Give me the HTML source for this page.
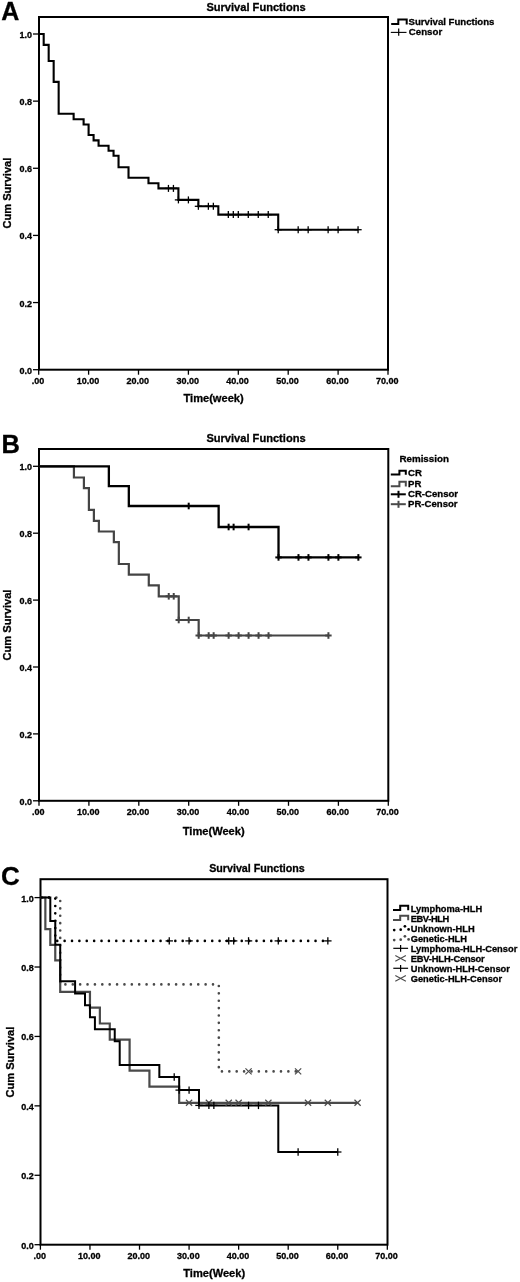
<!DOCTYPE html>
<html><head><meta charset="utf-8"><title>Survival Functions</title>
<style>
html,body{margin:0;padding:0;background:#fff;}
body{width:520px;height:1282px;overflow:hidden;}
svg{display:block;}
text{font-family:'Liberation Sans', Arial, sans-serif;font-weight:bold;stroke:#000;stroke-width:0.3px;}
</style></head><body>
<svg width="520" height="1282" viewBox="0 0 520 1282" font-family="'Liberation Sans', Arial, sans-serif" font-weight="bold">
<rect width="520" height="1282" fill="#fff"/>
<rect x="39" y="17" width="349" height="352.7" fill="none" stroke="#000" stroke-width="2"/>
<line x1="33" y1="369.7" x2="39" y2="369.7" stroke="#000" stroke-width="1.3"/>
<text x="32" y="373.7" font-size="9" text-anchor="end" fill="#000">0.0</text>
<line x1="33" y1="302.56" x2="39" y2="302.56" stroke="#000" stroke-width="1.3"/>
<text x="32" y="306.56" font-size="9" text-anchor="end" fill="#000">0.2</text>
<line x1="33" y1="235.42" x2="39" y2="235.42" stroke="#000" stroke-width="1.3"/>
<text x="32" y="239.42" font-size="9" text-anchor="end" fill="#000">0.4</text>
<line x1="33" y1="168.28" x2="39" y2="168.28" stroke="#000" stroke-width="1.3"/>
<text x="32" y="172.28" font-size="9" text-anchor="end" fill="#000">0.6</text>
<line x1="33" y1="101.14" x2="39" y2="101.14" stroke="#000" stroke-width="1.3"/>
<text x="32" y="105.14" font-size="9" text-anchor="end" fill="#000">0.8</text>
<line x1="33" y1="34" x2="39" y2="34" stroke="#000" stroke-width="1.3"/>
<text x="32" y="38" font-size="9" text-anchor="end" fill="#000">1.0</text>
<line x1="38.7" y1="369.7" x2="38.7" y2="374.7" stroke="#000" stroke-width="1.3"/>
<text x="38" y="384.1" font-size="9" text-anchor="middle" fill="#000">.00</text>
<line x1="88.6" y1="369.7" x2="88.6" y2="374.7" stroke="#000" stroke-width="1.3"/>
<text x="87.9" y="384.1" font-size="9" text-anchor="middle" fill="#000">10.00</text>
<line x1="138.5" y1="369.7" x2="138.5" y2="374.7" stroke="#000" stroke-width="1.3"/>
<text x="137.8" y="384.1" font-size="9" text-anchor="middle" fill="#000">20.00</text>
<line x1="188.4" y1="369.7" x2="188.4" y2="374.7" stroke="#000" stroke-width="1.3"/>
<text x="187.7" y="384.1" font-size="9" text-anchor="middle" fill="#000">30.00</text>
<line x1="238.3" y1="369.7" x2="238.3" y2="374.7" stroke="#000" stroke-width="1.3"/>
<text x="237.6" y="384.1" font-size="9" text-anchor="middle" fill="#000">40.00</text>
<line x1="288.2" y1="369.7" x2="288.2" y2="374.7" stroke="#000" stroke-width="1.3"/>
<text x="287.5" y="384.1" font-size="9" text-anchor="middle" fill="#000">50.00</text>
<line x1="338.1" y1="369.7" x2="338.1" y2="374.7" stroke="#000" stroke-width="1.3"/>
<text x="337.4" y="384.1" font-size="9" text-anchor="middle" fill="#000">60.00</text>
<line x1="388" y1="369.7" x2="388" y2="374.7" stroke="#000" stroke-width="1.3"/>
<text x="387.3" y="384.1" font-size="9" text-anchor="middle" fill="#000">70.00</text>
<text x="256" y="10.7" font-size="11.1" text-anchor="middle" fill="#000">Survival Functions</text>
<text x="213.6" y="402" font-size="11.1" text-anchor="middle" fill="#000">Time(week)</text>
<text x="0" y="0" font-size="11.1" text-anchor="middle" transform="translate(10.6,193.1) rotate(-90)">Cum Survival</text>
<text x="1.3" y="19.6" font-size="25" text-anchor="start" fill="#000">A</text>
<rect x="39" y="449" width="349.3" height="351.8" fill="none" stroke="#000" stroke-width="2"/>
<line x1="33" y1="800.8" x2="39" y2="800.8" stroke="#000" stroke-width="1.3"/>
<text x="32" y="804.8" font-size="9" text-anchor="end" fill="#000">0.0</text>
<line x1="33" y1="733.9" x2="39" y2="733.9" stroke="#000" stroke-width="1.3"/>
<text x="32" y="737.9" font-size="9" text-anchor="end" fill="#000">0.2</text>
<line x1="33" y1="667" x2="39" y2="667" stroke="#000" stroke-width="1.3"/>
<text x="32" y="671" font-size="9" text-anchor="end" fill="#000">0.4</text>
<line x1="33" y1="600.1" x2="39" y2="600.1" stroke="#000" stroke-width="1.3"/>
<text x="32" y="604.1" font-size="9" text-anchor="end" fill="#000">0.6</text>
<line x1="33" y1="533.2" x2="39" y2="533.2" stroke="#000" stroke-width="1.3"/>
<text x="32" y="537.2" font-size="9" text-anchor="end" fill="#000">0.8</text>
<line x1="33" y1="466.3" x2="39" y2="466.3" stroke="#000" stroke-width="1.3"/>
<text x="32" y="470.3" font-size="9" text-anchor="end" fill="#000">1.0</text>
<line x1="39" y1="800.8" x2="39" y2="805.8" stroke="#000" stroke-width="1.3"/>
<text x="38.3" y="815.2" font-size="9" text-anchor="middle" fill="#000">.00</text>
<line x1="88.9" y1="800.8" x2="88.9" y2="805.8" stroke="#000" stroke-width="1.3"/>
<text x="88.2" y="815.2" font-size="9" text-anchor="middle" fill="#000">10.00</text>
<line x1="138.8" y1="800.8" x2="138.8" y2="805.8" stroke="#000" stroke-width="1.3"/>
<text x="138.1" y="815.2" font-size="9" text-anchor="middle" fill="#000">20.00</text>
<line x1="188.7" y1="800.8" x2="188.7" y2="805.8" stroke="#000" stroke-width="1.3"/>
<text x="188" y="815.2" font-size="9" text-anchor="middle" fill="#000">30.00</text>
<line x1="238.6" y1="800.8" x2="238.6" y2="805.8" stroke="#000" stroke-width="1.3"/>
<text x="237.9" y="815.2" font-size="9" text-anchor="middle" fill="#000">40.00</text>
<line x1="288.5" y1="800.8" x2="288.5" y2="805.8" stroke="#000" stroke-width="1.3"/>
<text x="287.8" y="815.2" font-size="9" text-anchor="middle" fill="#000">50.00</text>
<line x1="338.4" y1="800.8" x2="338.4" y2="805.8" stroke="#000" stroke-width="1.3"/>
<text x="337.7" y="815.2" font-size="9" text-anchor="middle" fill="#000">60.00</text>
<line x1="388.3" y1="800.8" x2="388.3" y2="805.8" stroke="#000" stroke-width="1.3"/>
<text x="387.6" y="815.2" font-size="9" text-anchor="middle" fill="#000">70.00</text>
<text x="256" y="442.3" font-size="11.1" text-anchor="middle" fill="#000">Survival Functions</text>
<text x="213.7" y="834.5" font-size="11.1" text-anchor="middle" fill="#000">Time(Week)</text>
<text x="0" y="0" font-size="11.1" text-anchor="middle" transform="translate(10.6,625) rotate(-90)">Cum Survival</text>
<text x="1.5" y="452.7" font-size="25.5" text-anchor="start" fill="#000">B</text>
<rect x="40.5" y="879.2" width="347" height="365.5" fill="none" stroke="#000" stroke-width="2"/>
<line x1="34.5" y1="1244.7" x2="40.5" y2="1244.7" stroke="#000" stroke-width="1.3"/>
<text x="33.8" y="1248.7" font-size="9" text-anchor="end" fill="#000">0.0</text>
<line x1="34.5" y1="1175.28" x2="40.5" y2="1175.28" stroke="#000" stroke-width="1.3"/>
<text x="33.8" y="1179.28" font-size="9" text-anchor="end" fill="#000">0.2</text>
<line x1="34.5" y1="1105.86" x2="40.5" y2="1105.86" stroke="#000" stroke-width="1.3"/>
<text x="33.8" y="1109.86" font-size="9" text-anchor="end" fill="#000">0.4</text>
<line x1="34.5" y1="1036.44" x2="40.5" y2="1036.44" stroke="#000" stroke-width="1.3"/>
<text x="33.8" y="1040.44" font-size="9" text-anchor="end" fill="#000">0.6</text>
<line x1="34.5" y1="967.02" x2="40.5" y2="967.02" stroke="#000" stroke-width="1.3"/>
<text x="33.8" y="971.02" font-size="9" text-anchor="end" fill="#000">0.8</text>
<line x1="34.5" y1="897.6" x2="40.5" y2="897.6" stroke="#000" stroke-width="1.3"/>
<text x="33.8" y="901.6" font-size="9" text-anchor="end" fill="#000">1.0</text>
<line x1="40.4" y1="1244.7" x2="40.4" y2="1249.7" stroke="#000" stroke-width="1.3"/>
<text x="39.7" y="1259.2" font-size="9" text-anchor="middle" fill="#000">.00</text>
<line x1="89.96" y1="1244.7" x2="89.96" y2="1249.7" stroke="#000" stroke-width="1.3"/>
<text x="89.26" y="1259.2" font-size="9" text-anchor="middle" fill="#000">10.00</text>
<line x1="139.52" y1="1244.7" x2="139.52" y2="1249.7" stroke="#000" stroke-width="1.3"/>
<text x="138.82" y="1259.2" font-size="9" text-anchor="middle" fill="#000">20.00</text>
<line x1="189.08" y1="1244.7" x2="189.08" y2="1249.7" stroke="#000" stroke-width="1.3"/>
<text x="188.38" y="1259.2" font-size="9" text-anchor="middle" fill="#000">30.00</text>
<line x1="238.64" y1="1244.7" x2="238.64" y2="1249.7" stroke="#000" stroke-width="1.3"/>
<text x="237.94" y="1259.2" font-size="9" text-anchor="middle" fill="#000">40.00</text>
<line x1="288.2" y1="1244.7" x2="288.2" y2="1249.7" stroke="#000" stroke-width="1.3"/>
<text x="287.5" y="1259.2" font-size="9" text-anchor="middle" fill="#000">50.00</text>
<line x1="337.76" y1="1244.7" x2="337.76" y2="1249.7" stroke="#000" stroke-width="1.3"/>
<text x="337.06" y="1259.2" font-size="9" text-anchor="middle" fill="#000">60.00</text>
<line x1="387.32" y1="1244.7" x2="387.32" y2="1249.7" stroke="#000" stroke-width="1.3"/>
<text x="386.62" y="1259.2" font-size="9" text-anchor="middle" fill="#000">70.00</text>
<text x="257" y="872.3" font-size="10.7" text-anchor="middle" fill="#000">Survival Functions</text>
<text x="214.2" y="1277.2" font-size="11.1" text-anchor="middle" fill="#000">Time(Week)</text>
<text x="0" y="0" font-size="11.1" text-anchor="middle" transform="translate(13.8,1062.1) rotate(-90)">Cum Survival</text>
<text x="0.9" y="885.1" font-size="26" text-anchor="start" fill="#000">C</text>
<polyline points="38.7,34 43.69,34 43.69,44.85 48.68,44.85 48.68,61 53.67,61 53.67,81.9 58.66,81.9 58.66,113.8 73.63,113.8 73.63,119.3 83.61,119.3 83.61,124.5 88.6,124.5 88.6,135 93.59,135 93.59,140.4 98.58,140.4 98.58,145.8 108.56,145.8 108.56,150.8 113.55,150.8 113.55,155.8 118.54,155.8 118.54,167.3 128.52,167.3 128.52,177.7 148.48,177.7 148.48,183.2 158.46,183.2 158.46,188.4 178.42,188.4 178.42,199.9 198.38,199.9 198.38,206.3 218.34,206.3 218.34,214.6 278.22,214.6 278.22,229.7 358.06,229.7" fill="none" stroke="#000" stroke-width="2.1" stroke-linejoin="miter" stroke-linecap="butt"/>
<line x1="164.84" y1="188.4" x2="172.04" y2="188.4" stroke="#000" stroke-width="1.3"/>
<line x1="168.44" y1="184.9" x2="168.44" y2="191.9" stroke="#000" stroke-width="1.3"/>
<line x1="169.83" y1="188.4" x2="177.03" y2="188.4" stroke="#000" stroke-width="1.3"/>
<line x1="173.43" y1="184.9" x2="173.43" y2="191.9" stroke="#000" stroke-width="1.3"/>
<line x1="174.82" y1="199.9" x2="182.02" y2="199.9" stroke="#000" stroke-width="1.3"/>
<line x1="178.42" y1="196.4" x2="178.42" y2="203.4" stroke="#000" stroke-width="1.3"/>
<line x1="184.8" y1="199.9" x2="192" y2="199.9" stroke="#000" stroke-width="1.3"/>
<line x1="188.4" y1="196.4" x2="188.4" y2="203.4" stroke="#000" stroke-width="1.3"/>
<line x1="194.78" y1="206.3" x2="201.98" y2="206.3" stroke="#000" stroke-width="1.3"/>
<line x1="198.38" y1="202.8" x2="198.38" y2="209.8" stroke="#000" stroke-width="1.3"/>
<line x1="204.76" y1="206.3" x2="211.96" y2="206.3" stroke="#000" stroke-width="1.3"/>
<line x1="208.36" y1="202.8" x2="208.36" y2="209.8" stroke="#000" stroke-width="1.3"/>
<line x1="209.75" y1="206.3" x2="216.95" y2="206.3" stroke="#000" stroke-width="1.3"/>
<line x1="213.35" y1="202.8" x2="213.35" y2="209.8" stroke="#000" stroke-width="1.3"/>
<line x1="224.72" y1="214.6" x2="231.92" y2="214.6" stroke="#000" stroke-width="1.3"/>
<line x1="228.32" y1="211.1" x2="228.32" y2="218.1" stroke="#000" stroke-width="1.3"/>
<line x1="229.71" y1="214.6" x2="236.91" y2="214.6" stroke="#000" stroke-width="1.3"/>
<line x1="233.31" y1="211.1" x2="233.31" y2="218.1" stroke="#000" stroke-width="1.3"/>
<line x1="234.7" y1="214.6" x2="241.9" y2="214.6" stroke="#000" stroke-width="1.3"/>
<line x1="238.3" y1="211.1" x2="238.3" y2="218.1" stroke="#000" stroke-width="1.3"/>
<line x1="244.68" y1="214.6" x2="251.88" y2="214.6" stroke="#000" stroke-width="1.3"/>
<line x1="248.28" y1="211.1" x2="248.28" y2="218.1" stroke="#000" stroke-width="1.3"/>
<line x1="254.66" y1="214.6" x2="261.86" y2="214.6" stroke="#000" stroke-width="1.3"/>
<line x1="258.26" y1="211.1" x2="258.26" y2="218.1" stroke="#000" stroke-width="1.3"/>
<line x1="264.64" y1="214.6" x2="271.84" y2="214.6" stroke="#000" stroke-width="1.3"/>
<line x1="268.24" y1="211.1" x2="268.24" y2="218.1" stroke="#000" stroke-width="1.3"/>
<line x1="274.62" y1="229.7" x2="281.82" y2="229.7" stroke="#000" stroke-width="1.3"/>
<line x1="278.22" y1="226.2" x2="278.22" y2="233.2" stroke="#000" stroke-width="1.3"/>
<line x1="294.58" y1="229.7" x2="301.78" y2="229.7" stroke="#000" stroke-width="1.3"/>
<line x1="298.18" y1="226.2" x2="298.18" y2="233.2" stroke="#000" stroke-width="1.3"/>
<line x1="304.56" y1="229.7" x2="311.76" y2="229.7" stroke="#000" stroke-width="1.3"/>
<line x1="308.16" y1="226.2" x2="308.16" y2="233.2" stroke="#000" stroke-width="1.3"/>
<line x1="324.52" y1="229.7" x2="331.72" y2="229.7" stroke="#000" stroke-width="1.3"/>
<line x1="328.12" y1="226.2" x2="328.12" y2="233.2" stroke="#000" stroke-width="1.3"/>
<line x1="334.5" y1="229.7" x2="341.7" y2="229.7" stroke="#000" stroke-width="1.3"/>
<line x1="338.1" y1="226.2" x2="338.1" y2="233.2" stroke="#000" stroke-width="1.3"/>
<line x1="354.46" y1="229.7" x2="361.66" y2="229.7" stroke="#000" stroke-width="1.3"/>
<line x1="358.06" y1="226.2" x2="358.06" y2="233.2" stroke="#000" stroke-width="1.3"/>
<polyline points="391.2,23.9 398.3,23.9 398.3,19.4 406.7,19.4 406.7,24.4" fill="none" stroke="#000" stroke-width="2" stroke-linejoin="miter" stroke-linecap="butt"/>
<text x="408.6" y="24.9" font-size="9.6" text-anchor="start" fill="#000">Survival Functions</text>
<line x1="390.8" y1="32.4" x2="406.5" y2="32.4" stroke="#000" stroke-width="1.1"/>
<line x1="398.7" y1="28.6" x2="398.7" y2="35.8" stroke="#000" stroke-width="1.2"/>
<text x="408.8" y="35.4" font-size="9.7" text-anchor="start" fill="#000">Censor</text>
<polyline points="39,466.3 73.93,466.3 73.93,477.5 83.91,477.5 83.91,488.1 88.9,488.1 88.9,509.8 93.89,509.8 93.89,520.8 98.88,520.8 98.88,531.5 113.85,531.5 113.85,542.2 118.84,542.2 118.84,564 128.82,564 128.82,574.6 148.78,574.6 148.78,585.4 158.76,585.4 158.76,596.3 178.72,596.3 178.72,620 198.68,620 198.68,635.5 328.42,635.5" fill="none" stroke="#444" stroke-width="2.2" stroke-linejoin="miter" stroke-linecap="butt"/>
<polyline points="39,466.3 108.86,466.3 108.86,486.1 128.82,486.1 128.82,506 218.64,506 218.64,527 278.52,527 278.52,557.4 358.36,557.4" fill="none" stroke="#000" stroke-width="2.3" stroke-linejoin="miter" stroke-linecap="butt"/>
<line x1="165.54" y1="596.3" x2="171.94" y2="596.3" stroke="#444" stroke-width="2"/>
<line x1="168.74" y1="593" x2="168.74" y2="599.6" stroke="#444" stroke-width="2"/>
<line x1="170.53" y1="596.3" x2="176.93" y2="596.3" stroke="#444" stroke-width="2"/>
<line x1="173.73" y1="593" x2="173.73" y2="599.6" stroke="#444" stroke-width="2"/>
<line x1="175.52" y1="620" x2="181.92" y2="620" stroke="#444" stroke-width="2"/>
<line x1="178.72" y1="616.7" x2="178.72" y2="623.3" stroke="#444" stroke-width="2"/>
<line x1="185.5" y1="620" x2="191.9" y2="620" stroke="#444" stroke-width="2"/>
<line x1="188.7" y1="616.7" x2="188.7" y2="623.3" stroke="#444" stroke-width="2"/>
<line x1="195.48" y1="635.5" x2="201.88" y2="635.5" stroke="#444" stroke-width="2"/>
<line x1="198.68" y1="632.2" x2="198.68" y2="638.8" stroke="#444" stroke-width="2"/>
<line x1="205.46" y1="635.5" x2="211.86" y2="635.5" stroke="#444" stroke-width="2"/>
<line x1="208.66" y1="632.2" x2="208.66" y2="638.8" stroke="#444" stroke-width="2"/>
<line x1="210.45" y1="635.5" x2="216.85" y2="635.5" stroke="#444" stroke-width="2"/>
<line x1="213.65" y1="632.2" x2="213.65" y2="638.8" stroke="#444" stroke-width="2"/>
<line x1="225.42" y1="635.5" x2="231.82" y2="635.5" stroke="#444" stroke-width="2"/>
<line x1="228.62" y1="632.2" x2="228.62" y2="638.8" stroke="#444" stroke-width="2"/>
<line x1="235.4" y1="635.5" x2="241.8" y2="635.5" stroke="#444" stroke-width="2"/>
<line x1="238.6" y1="632.2" x2="238.6" y2="638.8" stroke="#444" stroke-width="2"/>
<line x1="245.38" y1="635.5" x2="251.78" y2="635.5" stroke="#444" stroke-width="2"/>
<line x1="248.58" y1="632.2" x2="248.58" y2="638.8" stroke="#444" stroke-width="2"/>
<line x1="255.36" y1="635.5" x2="261.76" y2="635.5" stroke="#444" stroke-width="2"/>
<line x1="258.56" y1="632.2" x2="258.56" y2="638.8" stroke="#444" stroke-width="2"/>
<line x1="265.34" y1="635.5" x2="271.74" y2="635.5" stroke="#444" stroke-width="2"/>
<line x1="268.54" y1="632.2" x2="268.54" y2="638.8" stroke="#444" stroke-width="2"/>
<line x1="325.22" y1="635.5" x2="331.62" y2="635.5" stroke="#444" stroke-width="2"/>
<line x1="328.42" y1="632.2" x2="328.42" y2="638.8" stroke="#444" stroke-width="2"/>
<line x1="185.5" y1="506" x2="191.9" y2="506" stroke="#000" stroke-width="2"/>
<line x1="188.7" y1="502.7" x2="188.7" y2="509.3" stroke="#000" stroke-width="2"/>
<line x1="225.42" y1="527" x2="231.82" y2="527" stroke="#000" stroke-width="2"/>
<line x1="228.62" y1="523.7" x2="228.62" y2="530.3" stroke="#000" stroke-width="2"/>
<line x1="230.41" y1="527" x2="236.81" y2="527" stroke="#000" stroke-width="2"/>
<line x1="233.61" y1="523.7" x2="233.61" y2="530.3" stroke="#000" stroke-width="2"/>
<line x1="245.38" y1="527" x2="251.78" y2="527" stroke="#000" stroke-width="2"/>
<line x1="248.58" y1="523.7" x2="248.58" y2="530.3" stroke="#000" stroke-width="2"/>
<line x1="275.32" y1="557.4" x2="281.72" y2="557.4" stroke="#000" stroke-width="2"/>
<line x1="278.52" y1="554.1" x2="278.52" y2="560.7" stroke="#000" stroke-width="2"/>
<line x1="295.28" y1="557.4" x2="301.68" y2="557.4" stroke="#000" stroke-width="2"/>
<line x1="298.48" y1="554.1" x2="298.48" y2="560.7" stroke="#000" stroke-width="2"/>
<line x1="305.26" y1="557.4" x2="311.66" y2="557.4" stroke="#000" stroke-width="2"/>
<line x1="308.46" y1="554.1" x2="308.46" y2="560.7" stroke="#000" stroke-width="2"/>
<line x1="325.22" y1="557.4" x2="331.62" y2="557.4" stroke="#000" stroke-width="2"/>
<line x1="328.42" y1="554.1" x2="328.42" y2="560.7" stroke="#000" stroke-width="2"/>
<line x1="335.2" y1="557.4" x2="341.6" y2="557.4" stroke="#000" stroke-width="2"/>
<line x1="338.4" y1="554.1" x2="338.4" y2="560.7" stroke="#000" stroke-width="2"/>
<line x1="355.16" y1="557.4" x2="361.56" y2="557.4" stroke="#000" stroke-width="2"/>
<line x1="358.36" y1="554.1" x2="358.36" y2="560.7" stroke="#000" stroke-width="2"/>
<text x="399.4" y="462.2" font-size="9.8" text-anchor="start" fill="#000">Remission</text>
<polyline points="390.8,474.6 399.4,474.6 399.4,470.8 405.8,470.8 405.8,474.8" fill="none" stroke="#000" stroke-width="2" stroke-linejoin="miter" stroke-linecap="butt"/>
<text x="408" y="476.4" font-size="9.6" text-anchor="start" fill="#000">CR</text>
<polyline points="390.8,486.2 399.4,486.2 399.4,481.8 405.8,481.8 405.8,486.4" fill="none" stroke="#4a4a4a" stroke-width="2" stroke-linejoin="miter" stroke-linecap="butt"/>
<text x="408" y="487.1" font-size="9.6" text-anchor="start" fill="#000">PR</text>
<line x1="390.8" y1="494.3" x2="405.8" y2="494.3" stroke="#000" stroke-width="2"/>
<line x1="398.5" y1="490.8" x2="398.5" y2="497.8" stroke="#000" stroke-width="2"/>
<text x="408" y="497.3" font-size="9.6" text-anchor="start" fill="#000">CR-Censor</text>
<line x1="390.8" y1="504.2" x2="405.8" y2="504.2" stroke="#4a4a4a" stroke-width="2"/>
<line x1="398.5" y1="500.8" x2="398.5" y2="507.8" stroke="#4a4a4a" stroke-width="2"/>
<text x="408" y="507.2" font-size="9.6" text-anchor="start" fill="#000">PR-Censor</text>
<polyline points="40.4,897.5 60.22,897.5 60.22,984.4 218.82,984.4 218.82,1071.4 298.11,1071.4" fill="none" stroke="#4a4a4a" stroke-width="2.6" stroke-linejoin="miter" stroke-dasharray="0.01 7.37" stroke-dashoffset="-1.2" stroke-linecap="round"/>
<polyline points="40.4,897.5 55.27,897.5 55.27,940.9 327.85,940.9" fill="none" stroke="#000" stroke-width="2.6" stroke-linejoin="miter" stroke-dasharray="0.01 7.37" stroke-dashoffset="-1.2" stroke-linecap="round"/>
<polyline points="40.4,897.5 45.36,897.5 45.36,929.2 50.31,929.2 50.31,944.8 55.27,944.8 55.27,960.4 60.22,960.4 60.22,991.9 89.96,991.9 89.96,1007.6 99.87,1007.6 99.87,1023.5 109.78,1023.5 109.78,1039.6 129.61,1039.6 129.61,1070.7 149.43,1070.7 149.43,1086.7 179.17,1086.7 179.17,1102.8 357.58,1102.8" fill="none" stroke="#4a4a4a" stroke-width="2.2" stroke-linejoin="miter" stroke-linecap="butt"/>
<polyline points="40.4,897.5 50.31,897.5 50.31,921 55.27,921 55.27,944.8 60.22,944.8 60.22,981.2 75.09,981.2 75.09,993.4 85,993.4 85,1005.2 89.96,1005.2 89.96,1017.3 94.92,1017.3 94.92,1029.2 114.74,1029.2 114.74,1041.2 119.7,1041.2 119.7,1064.9 159.34,1064.9 159.34,1077 179.17,1077 179.17,1090.1 198.99,1090.1 198.99,1105.4 278.29,1105.4 278.29,1152 337.76,1152" fill="none" stroke="#000" stroke-width="2" stroke-linejoin="miter" stroke-linecap="butt"/>
<line x1="185.98" y1="1099.8" x2="192.18" y2="1105.8" stroke="#4a4a4a" stroke-width="1.2"/>
<line x1="185.98" y1="1105.8" x2="192.18" y2="1099.8" stroke="#4a4a4a" stroke-width="1.2"/>
<line x1="205.8" y1="1099.8" x2="212" y2="1105.8" stroke="#4a4a4a" stroke-width="1.2"/>
<line x1="205.8" y1="1105.8" x2="212" y2="1099.8" stroke="#4a4a4a" stroke-width="1.2"/>
<line x1="225.63" y1="1099.8" x2="231.83" y2="1105.8" stroke="#4a4a4a" stroke-width="1.2"/>
<line x1="225.63" y1="1105.8" x2="231.83" y2="1099.8" stroke="#4a4a4a" stroke-width="1.2"/>
<line x1="235.54" y1="1099.8" x2="241.74" y2="1105.8" stroke="#4a4a4a" stroke-width="1.2"/>
<line x1="235.54" y1="1105.8" x2="241.74" y2="1099.8" stroke="#4a4a4a" stroke-width="1.2"/>
<line x1="265.28" y1="1099.8" x2="271.48" y2="1105.8" stroke="#4a4a4a" stroke-width="1.2"/>
<line x1="265.28" y1="1105.8" x2="271.48" y2="1099.8" stroke="#4a4a4a" stroke-width="1.2"/>
<line x1="304.92" y1="1099.8" x2="311.12" y2="1105.8" stroke="#4a4a4a" stroke-width="1.2"/>
<line x1="304.92" y1="1105.8" x2="311.12" y2="1099.8" stroke="#4a4a4a" stroke-width="1.2"/>
<line x1="324.75" y1="1099.8" x2="330.95" y2="1105.8" stroke="#4a4a4a" stroke-width="1.2"/>
<line x1="324.75" y1="1105.8" x2="330.95" y2="1099.8" stroke="#4a4a4a" stroke-width="1.2"/>
<line x1="354.48" y1="1099.8" x2="360.68" y2="1105.8" stroke="#4a4a4a" stroke-width="1.2"/>
<line x1="354.48" y1="1105.8" x2="360.68" y2="1099.8" stroke="#4a4a4a" stroke-width="1.2"/>
<line x1="245.45" y1="1068.4" x2="251.65" y2="1074.4" stroke="#4a4a4a" stroke-width="1.2"/>
<line x1="245.45" y1="1074.4" x2="251.65" y2="1068.4" stroke="#4a4a4a" stroke-width="1.2"/>
<line x1="295.01" y1="1068.4" x2="301.21" y2="1074.4" stroke="#4a4a4a" stroke-width="1.2"/>
<line x1="295.01" y1="1074.4" x2="301.21" y2="1068.4" stroke="#4a4a4a" stroke-width="1.2"/>
<line x1="165.56" y1="940.9" x2="172.96" y2="940.9" stroke="#000" stroke-width="1.3"/>
<line x1="169.26" y1="937.2" x2="169.26" y2="944.6" stroke="#000" stroke-width="1.3"/>
<line x1="185.38" y1="940.9" x2="192.78" y2="940.9" stroke="#000" stroke-width="1.3"/>
<line x1="189.08" y1="937.2" x2="189.08" y2="944.6" stroke="#000" stroke-width="1.3"/>
<line x1="225.03" y1="940.9" x2="232.43" y2="940.9" stroke="#000" stroke-width="1.3"/>
<line x1="228.73" y1="937.2" x2="228.73" y2="944.6" stroke="#000" stroke-width="1.3"/>
<line x1="229.98" y1="940.9" x2="237.38" y2="940.9" stroke="#000" stroke-width="1.3"/>
<line x1="233.68" y1="937.2" x2="233.68" y2="944.6" stroke="#000" stroke-width="1.3"/>
<line x1="244.85" y1="940.9" x2="252.25" y2="940.9" stroke="#000" stroke-width="1.3"/>
<line x1="248.55" y1="937.2" x2="248.55" y2="944.6" stroke="#000" stroke-width="1.3"/>
<line x1="274.59" y1="940.9" x2="281.99" y2="940.9" stroke="#000" stroke-width="1.3"/>
<line x1="278.29" y1="937.2" x2="278.29" y2="944.6" stroke="#000" stroke-width="1.3"/>
<line x1="324.15" y1="940.9" x2="331.55" y2="940.9" stroke="#000" stroke-width="1.3"/>
<line x1="327.85" y1="937.2" x2="327.85" y2="944.6" stroke="#000" stroke-width="1.3"/>
<line x1="170.51" y1="1077" x2="177.91" y2="1077" stroke="#000" stroke-width="1.3"/>
<line x1="174.21" y1="1073.3" x2="174.21" y2="1080.7" stroke="#000" stroke-width="1.3"/>
<line x1="175.47" y1="1090.1" x2="182.87" y2="1090.1" stroke="#000" stroke-width="1.3"/>
<line x1="179.17" y1="1086.4" x2="179.17" y2="1093.8" stroke="#000" stroke-width="1.3"/>
<line x1="185.38" y1="1090.1" x2="192.78" y2="1090.1" stroke="#000" stroke-width="1.3"/>
<line x1="189.08" y1="1086.4" x2="189.08" y2="1093.8" stroke="#000" stroke-width="1.3"/>
<line x1="195.29" y1="1105.4" x2="202.69" y2="1105.4" stroke="#000" stroke-width="1.3"/>
<line x1="198.99" y1="1101.7" x2="198.99" y2="1109.1" stroke="#000" stroke-width="1.3"/>
<line x1="205.2" y1="1105.4" x2="212.6" y2="1105.4" stroke="#000" stroke-width="1.3"/>
<line x1="208.9" y1="1101.7" x2="208.9" y2="1109.1" stroke="#000" stroke-width="1.3"/>
<line x1="210.16" y1="1105.4" x2="217.56" y2="1105.4" stroke="#000" stroke-width="1.3"/>
<line x1="213.86" y1="1101.7" x2="213.86" y2="1109.1" stroke="#000" stroke-width="1.3"/>
<line x1="244.85" y1="1105.4" x2="252.25" y2="1105.4" stroke="#000" stroke-width="1.3"/>
<line x1="248.55" y1="1101.7" x2="248.55" y2="1109.1" stroke="#000" stroke-width="1.3"/>
<line x1="254.76" y1="1105.4" x2="262.16" y2="1105.4" stroke="#000" stroke-width="1.3"/>
<line x1="258.46" y1="1101.7" x2="258.46" y2="1109.1" stroke="#000" stroke-width="1.3"/>
<line x1="294.41" y1="1152" x2="301.81" y2="1152" stroke="#000" stroke-width="1.3"/>
<line x1="298.11" y1="1148.3" x2="298.11" y2="1155.7" stroke="#000" stroke-width="1.3"/>
<line x1="334.06" y1="1152" x2="341.46" y2="1152" stroke="#000" stroke-width="1.3"/>
<line x1="337.76" y1="1148.3" x2="337.76" y2="1155.7" stroke="#000" stroke-width="1.3"/>
<text x="410.7" y="911.8" font-size="9.3" text-anchor="start" fill="#000">Lymphoma-HLH</text>
<text x="410.7" y="921.78" font-size="9.3" text-anchor="start" fill="#000" textLength="38.6" lengthAdjust="spacing">EBV-HLH</text>
<text x="410.7" y="931.76" font-size="9.3" text-anchor="start" fill="#000">Unknown-HLH</text>
<text x="410.7" y="941.74" font-size="9.3" text-anchor="start" fill="#000">Genetic-HLH</text>
<text x="410.7" y="951.72" font-size="9.3" text-anchor="start" fill="#000">Lymphoma-HLH-Censor</text>
<text x="410.7" y="961.7" font-size="9.3" text-anchor="start" fill="#000" textLength="74.0" lengthAdjust="spacing">EBV-HLH-Censor</text>
<text x="410.7" y="971.68" font-size="9.3" text-anchor="start" fill="#000">Unknown-HLH-Censor</text>
<text x="410.7" y="981.66" font-size="9.3" text-anchor="start" fill="#000">Genetic-HLH-Censor</text>
<polyline points="393,910 400.2,910 400.2,905.8 408.2,905.8 408.2,910.2" fill="none" stroke="#000" stroke-width="2" stroke-linejoin="miter" stroke-linecap="butt"/>
<polyline points="393,919.98 400.2,919.98 400.2,915.78 408.2,915.78 408.2,920.18" fill="none" stroke="#4a4a4a" stroke-width="2" stroke-linejoin="miter" stroke-linecap="butt"/>
<circle cx="394.2" cy="930.06" r="1.35" fill="#000"/>
<circle cx="400.7" cy="929.66" r="1.35" fill="#000"/>
<circle cx="404.9" cy="926.36" r="1.35" fill="#000"/>
<circle cx="408.6" cy="929.46" r="1.35" fill="#000"/>
<circle cx="394.2" cy="940.04" r="1.35" fill="#4a4a4a"/>
<circle cx="400.7" cy="939.64" r="1.35" fill="#4a4a4a"/>
<circle cx="404.9" cy="936.34" r="1.35" fill="#4a4a4a"/>
<circle cx="408.6" cy="939.44" r="1.35" fill="#4a4a4a"/>
<line x1="393.3" y1="948.32" x2="408.1" y2="948.32" stroke="#000" stroke-width="1.2"/>
<line x1="400.6" y1="944.92" x2="400.6" y2="951.72" stroke="#000" stroke-width="1.2"/>
<line x1="393.3" y1="968.28" x2="408.1" y2="968.28" stroke="#000" stroke-width="1.2"/>
<line x1="400.6" y1="964.88" x2="400.6" y2="971.68" stroke="#000" stroke-width="1.2"/>
<line x1="395.3" y1="955.5" x2="405.9" y2="961.3" stroke="#4a4a4a" stroke-width="1.1"/>
<line x1="395.3" y1="961.3" x2="405.9" y2="955.5" stroke="#4a4a4a" stroke-width="1.1"/>
<line x1="395.3" y1="975.46" x2="405.9" y2="981.26" stroke="#4a4a4a" stroke-width="1.1"/>
<line x1="395.3" y1="981.26" x2="405.9" y2="975.46" stroke="#4a4a4a" stroke-width="1.1"/>
</svg>
</body></html>
